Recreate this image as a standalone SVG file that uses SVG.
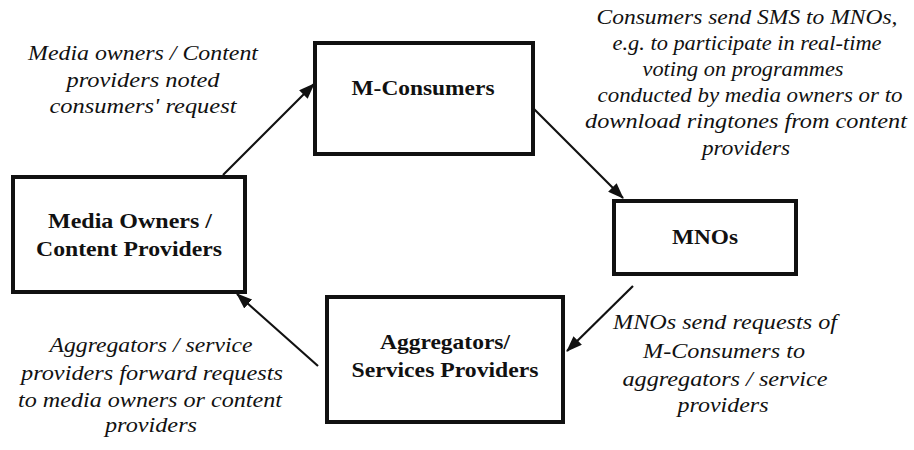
<svg xmlns="http://www.w3.org/2000/svg" width="914" height="450" viewBox="0 0 914 450">
  <style>
    .box { fill: #ffffff; stroke: #111111; stroke-width: 4; }
    .node { font-family: "Liberation Serif", serif; font-weight: bold; font-size: 21px; fill: #111111; text-anchor: middle; }
    .note { font-family: "Liberation Serif", serif; font-style: italic; font-size: 22px; fill: #111111; text-anchor: middle; }
    .link { fill: none; stroke: #111111; stroke-width: 2.2; }
  </style>
  <defs>
    <marker id="arrow" viewBox="0 0 16 12" refX="15" refY="6" markerWidth="16" markerHeight="12" markerUnits="userSpaceOnUse" orient="auto">
      <path d="M0,0 L16,6 L0,12 Z" fill="#111111"/>
    </marker>
  </defs>

  <rect width="914" height="450" fill="#ffffff"/>

  <!-- connectors -->
  <g id="connectors">
    <line class="link" x1="223" y1="175" x2="314" y2="84" marker-end="url(#arrow)"/>
    <line class="link" x1="533" y1="108" x2="623" y2="198" marker-end="url(#arrow)"/>
    <line class="link" x1="633" y1="286" x2="567" y2="351" marker-end="url(#arrow)"/>
    <line class="link" x1="318" y1="366" x2="237" y2="294" marker-end="url(#arrow)"/>
  </g>

  <!-- nodes -->
  <g id="m-consumers">
    <rect class="box" x="315" y="43" width="218" height="111"/>
    <text class="node" x="423" y="95" textLength="143" lengthAdjust="spacingAndGlyphs">M-Consumers</text>
  </g>

  <g id="mnos">
    <rect class="box" x="614" y="201" width="182" height="73"/>
    <text class="node" x="705" y="244" textLength="66" lengthAdjust="spacingAndGlyphs">MNOs</text>
  </g>

  <g id="media-owners">
    <rect class="box" x="13" y="177" width="232" height="115"/>
    <text class="node" x="130" y="228" textLength="164" lengthAdjust="spacingAndGlyphs">Media Owners /</text>
    <text class="node" x="129" y="256" textLength="186" lengthAdjust="spacingAndGlyphs">Content Providers</text>
  </g>

  <g id="aggregators">
    <rect class="box" x="327" y="297" width="236" height="125"/>
    <text class="node" x="445" y="349" textLength="130" lengthAdjust="spacingAndGlyphs">Aggregators/</text>
    <text class="node" x="445" y="377" textLength="187" lengthAdjust="spacingAndGlyphs">Services Providers</text>
  </g>

  <!-- annotations -->
  <g id="note-request">
    <text class="note" x="143" y="60" textLength="230" lengthAdjust="spacingAndGlyphs">Media owners / Content</text>
    <text class="note" x="143" y="87" textLength="153" lengthAdjust="spacingAndGlyphs">providers noted</text>
    <text class="note" x="143" y="113" textLength="187" lengthAdjust="spacingAndGlyphs">consumers' request</text>
  </g>

  <g id="note-sms">
    <text class="note" x="747" y="24" textLength="301" lengthAdjust="spacingAndGlyphs">Consumers send SMS to MNOs,</text>
    <text class="note" x="747" y="50" textLength="269" lengthAdjust="spacingAndGlyphs">e.g. to participate in real-time</text>
    <text class="note" x="743" y="76" textLength="201" lengthAdjust="spacingAndGlyphs">voting on programmes</text>
    <text class="note" x="750" y="102" textLength="305" lengthAdjust="spacingAndGlyphs">conducted by media owners or to</text>
    <text class="note" x="746" y="128" textLength="322" lengthAdjust="spacingAndGlyphs">download ringtones from content</text>
    <text class="note" x="746" y="155" textLength="88" lengthAdjust="spacingAndGlyphs">providers</text>
  </g>

  <g id="note-forward-mno">
    <text class="note" x="725" y="329" textLength="224" lengthAdjust="spacingAndGlyphs">MNOs send requests of</text>
    <text class="note" x="724" y="358" textLength="162" lengthAdjust="spacingAndGlyphs">M-Consumers to</text>
    <text class="note" x="725" y="386" textLength="205" lengthAdjust="spacingAndGlyphs">aggregators / service</text>
    <text class="note" x="723" y="412" textLength="91" lengthAdjust="spacingAndGlyphs">providers</text>
  </g>

  <g id="note-forward-aggregator">
    <text class="note" x="151" y="352" textLength="203" lengthAdjust="spacingAndGlyphs">Aggregators / service</text>
    <text class="note" x="152" y="380" textLength="262" lengthAdjust="spacingAndGlyphs">providers forward requests</text>
    <text class="note" x="150" y="407" textLength="264" lengthAdjust="spacingAndGlyphs">to media owners or content</text>
    <text class="note" x="151" y="432" textLength="92" lengthAdjust="spacingAndGlyphs">providers</text>
  </g>
</svg>
